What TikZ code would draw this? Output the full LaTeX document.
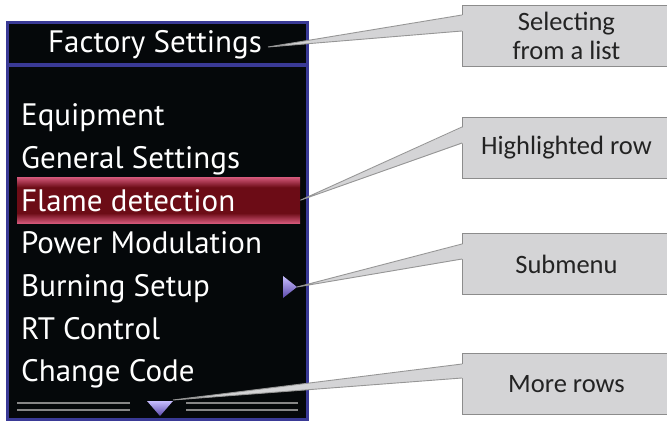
\documentclass[tikz,border=0pt]{standalone}
\usepackage{fontspec}
\setmainfont{Carlito}
\newfontfamily\screenfont{PT Sans}
\usetikzlibrary{calc}

\definecolor{frameblue}{RGB}{58,58,150}
\definecolor{screenblack}{RGB}{5,8,10}
\definecolor{rowpink}{RGB}{212,88,122}
\definecolor{rowdark}{RGB}{108,12,22}
\definecolor{arrowlight}{RGB}{200,190,255}
\definecolor{arrowdark}{RGB}{90,72,170}
\definecolor{bargray}{RGB}{135,135,135}
\definecolor{calloutfill}{RGB}{212,212,214}
\definecolor{calloutline}{RGB}{140,140,140}
\definecolor{leadergray}{RGB}{150,150,150}
\definecolor{callouttext}{RGB}{35,35,35}

\pgfdeclareverticalshading{rowshade}{100bp}{color(0bp)=(rowpink); color(25bp)=(rowpink);
  color(36bp)=(rowdark); color(64bp)=(rowdark); color(75bp)=(rowpink); color(100bp)=(rowpink)}

\tikzset{
  menu/.style={anchor=base west,text=white,inner sep=0pt,
               font=\screenfont\fontsize{31}{36}\selectfont},
  calloutbox/.style={draw=calloutline,fill=calloutfill,line width=0.9pt,
                     minimum width=208,minimum height=61,anchor=north west,
                     text=callouttext,align=center,
                     font=\fontsize{26.5}{29}\selectfont},
  leader/.style={draw=leadergray,line width=0.9pt},
  gapfill/.style={fill=calloutfill},
  bar/.style={draw=bargray,line width=2.4pt},
}

\begin{document}
\begin{tikzpicture}[x=1pt,y=-1pt]
    \useasboundingbox (0,0) rectangle (667,425);

    % screen
    \draw[frameblue,line width=3pt,fill=screenblack] (7.5,22.5) rectangle (307.5,419.5);
    \draw[frameblue,line width=3.5pt] (7.5,65) -- (307.5,65);

    \node[menu,anchor=base] (title) at (155,53) {Factory Settings};

    % highlighted row
    \node[shading=rowshade,minimum width=283,minimum height=46,inner sep=0pt,
          anchor=north west] (hlrow) at (17,177) {};

    \foreach \name/\txt [count=\i from 0] in {equip/Equipment,general/General Settings,
        flame/Flame detection,power/Power Modulation,burning/Burning Setup,
        rtctrl/RT Control,code/Change Code}
        \node[menu] (\name) at (21,{126+42.6*\i}) {\txt};

    % submenu arrow
    \coordinate (subtip) at (297,287);
    \shade[top color=arrowlight,bottom color=arrowdark]
        (subtip) -- (283,276) -- (283,298) -- cycle;

    % more rows bars and arrow
    \draw[bar] (17,403) -- (130,403) (17,410) -- (130,410);
    \draw[bar] (186,403) -- (298,403) (186,410) -- (298,410);
    \coordinate (moretip) at (173,400);
    \shade[top color=arrowlight,bottom color=arrowdark]
        (147,401) -- (173,401) -- (160,416) -- cycle;

    % callouts
    \node[calloutbox] (selbox) at (462,5) {Selecting\\from a list};
    \node[calloutbox] (hlbox) at (462,117) {Highlighted row};
    \node[calloutbox] (subbox) at (462,233) {Submenu};
    \node[calloutbox] (morebox) at (462,353) {More rows};

    \coordinate (titletip) at ($(title.base east)+(6,-6)$);
    \fill[gapfill] (titletip) -- ($(selbox.north west)+(1.5,10)$) -- ($(selbox.north west)+(1.5,26)$) -- cycle;
    \draw[leader] ($(selbox.north west)+(0,10)$) -- (titletip) -- ($(selbox.north west)+(0,26)$);

    \fill[gapfill] (hlrow.east) -- ($(hlbox.north west)+(1.5,10)$) -- ($(hlbox.north west)+(1.5,26)$) -- cycle;
    \draw[leader] ($(hlbox.north west)+(0,10)$) -- (hlrow.east) -- ($(hlbox.north west)+(0,26)$);

    \fill[gapfill] (subtip) -- ($(subbox.north west)+(1.5,11)$) -- ($(subbox.north west)+(1.5,26)$) -- cycle;
    \draw[leader] ($(subbox.north west)+(0,11)$) -- (subtip) -- ($(subbox.north west)+(0,26)$);

    \fill[gapfill] (moretip) -- ($(morebox.north west)+(1.5,11)$) -- ($(morebox.north west)+(1.5,25)$) -- cycle;
    \draw[leader] ($(morebox.north west)+(0,11)$) -- (moretip) -- ($(morebox.north west)+(0,25)$);

\end{tikzpicture}
\end{document}
